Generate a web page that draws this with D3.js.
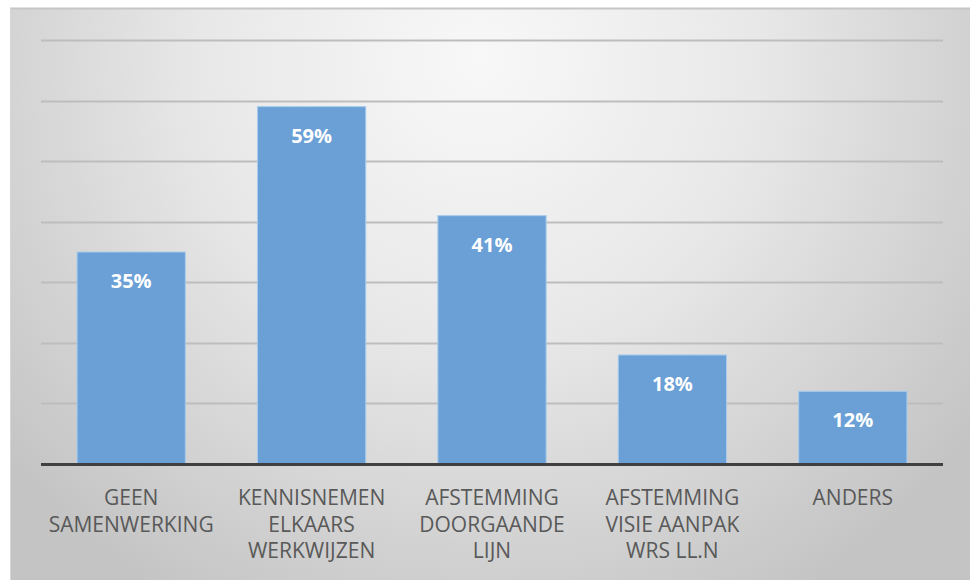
<!DOCTYPE html>
<html>
<head>
<meta charset="utf-8">
<script src="https://cdn.jsdelivr.net/npm/d3@7/dist/d3.min.js"></script>
<style>
  html, body { margin: 0; padding: 0; background: #ffffff; }
  svg { display: block; }
</style>
</head>
<body>
<svg id="chart" width="972" height="580"></svg>
<script>
// Share of respondents per type of cooperation
const categories = [
  ["GEEN", "SAMENWERKING"],
  ["KENNISNEMEN", "ELKAARS", "WERKWIJZEN"],
  ["AFSTEMMING", "DOORGAANDE", "LIJN"],
  ["AFSTEMMING", "VISIE AANPAK", "WRS LL.N"],
  ["ANDERS"]
];
const values = [35, 59, 41, 18, 12];
const gridTicks = [0, 10, 20, 30, 40, 50, 60, 70];

const svg = d3.select("#chart");
const W = 972, H = 580;
const margin = { left: 41, right: 29, top: 40, bottom: 116 };

// background panel with soft radial shading
const defs = svg.append("defs");
const rg = defs.append("radialGradient")
  .attr("id", "bg")
  .attr("gradientUnits", "userSpaceOnUse")
  .attr("cx", 480).attr("cy", 60).attr("r", 620)
  .attr("fx", 480).attr("fy", 60);
rg.append("stop").attr("offset", "0%").attr("stop-color", "#f8f8f8");
rg.append("stop").attr("offset", "45%").attr("stop-color", "#e8e8e8");
rg.append("stop").attr("offset", "100%").attr("stop-color", "#c4c4c4");

svg.append("rect")
  .attr("x", 10).attr("y", 8).attr("width", 960).attr("height", 580)
  .attr("fill", "url(#bg)");
svg.append("line")
  .attr("x1", 10).attr("x2", 970).attr("y1", 8.5).attr("y2", 8.5)
  .attr("stroke", "#c6c6c6").attr("stroke-width", 2);
svg.append("line")
  .attr("x1", 10.5).attr("x2", 10.5).attr("y1", 8).attr("y2", 580)
  .attr("stroke", "#d6d6d6").attr("stroke-width", 1);

const x = d3.scaleBand()
  .domain(d3.range(categories.length))
  .range([margin.left, W - margin.right])
  .paddingInner(0.4)
  .paddingOuter(0.2);

const y = d3.scaleLinear()
  .domain([0, 70])
  .range([H - margin.bottom, margin.top]);

// horizontal gridlines
svg.append("g")
  .selectAll("line")
  .data(gridTicks.filter(t => t > 0))
  .join("line")
  .attr("x1", margin.left).attr("x2", W - margin.right)
  .attr("y1", d => Math.round(y(d)) + 0.5).attr("y2", d => Math.round(y(d)) + 0.5)
  .attr("stroke", "#bdbdbd").attr("stroke-width", 2);

// bars
svg.append("g")
  .selectAll("rect")
  .data(values)
  .join("rect")
  .attr("x", (d, i) => x(i))
  .attr("y", d => y(d))
  .attr("width", x.bandwidth())
  .attr("height", d => y(0) - y(d))
  .attr("fill", "#6aa0d6")
  .attr("stroke", "#a8cbec")
  .attr("stroke-width", 1);

// baseline axis
svg.append("line")
  .attr("x1", margin.left).attr("x2", W - margin.right)
  .attr("y1", y(0) + 0.5).attr("y2", y(0) + 0.5)
  .attr("stroke", "#404040").attr("stroke-width", 3);

// value labels
svg.append("g")
  .selectAll("text")
  .data(values)
  .join("text")
  .attr("x", (d, i) => x(i) + x.bandwidth() / 2)
  .attr("y", d => y(d) + 36)
  .attr("text-anchor", "middle")
  .attr("font-family", "'Open Sans', sans-serif")
  .attr("font-weight", "bold")
  .attr("font-size", 20)
  .attr("fill", "#ffffff")
  .text(d => d + "%");

// category labels
const catG = svg.append("g")
  .selectAll("text")
  .data(categories)
  .join("text")
  .attr("x", (d, i) => x(i) + x.bandwidth() / 2)
  .attr("y", y(0) + 41)
  .attr("text-anchor", "middle")
  .attr("font-family", "'Open Sans', sans-serif")
  .attr("font-size", 21)
  .attr("fill", "#595959");
catG.selectAll("tspan")
  .data(d => d)
  .join("tspan")
  .attr("x", function () { return d3.select(this.parentNode).attr("x"); })
  .attr("dy", (d, i) => i === 0 ? 0 : 26.5)
  .text(d => d);
</script>
</body>
</html>
